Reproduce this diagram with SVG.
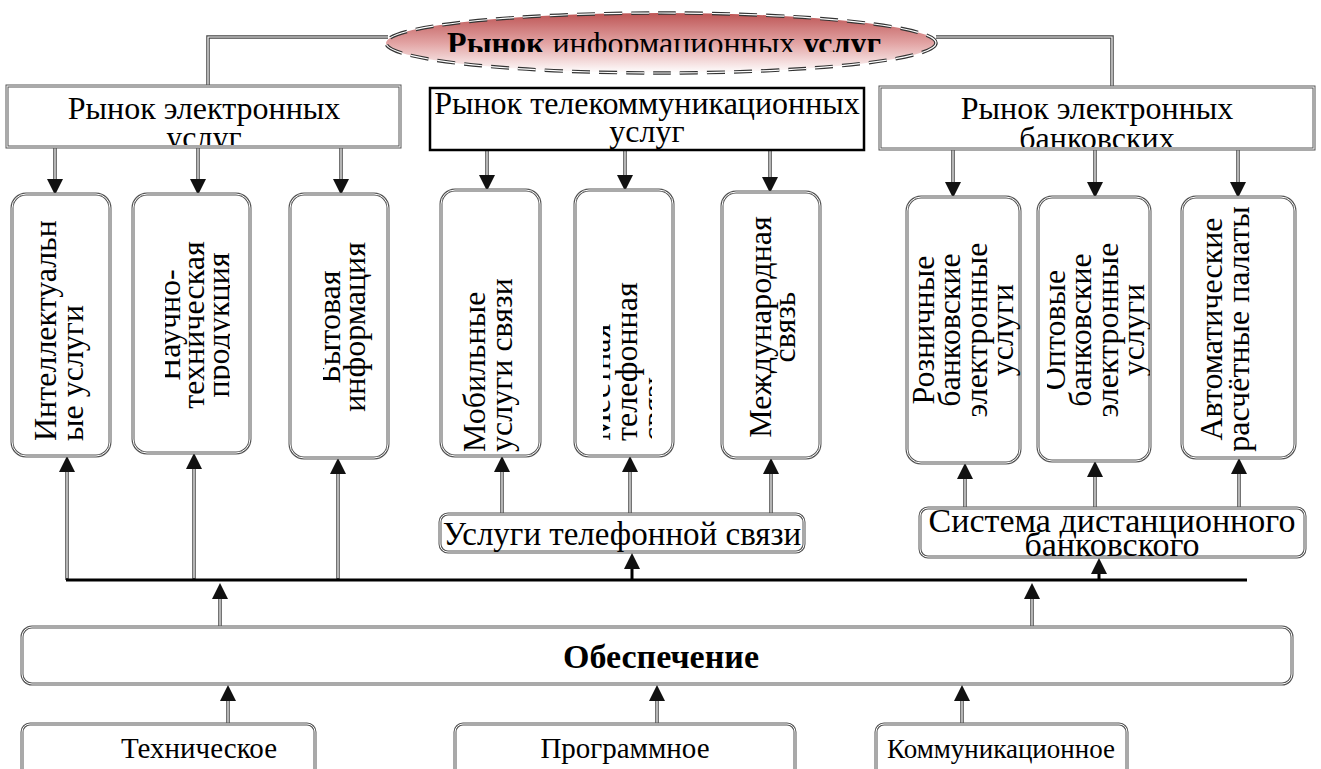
<svg xmlns="http://www.w3.org/2000/svg" width="1321" height="769" viewBox="0 0 1321 769">
<style>
  text { font-family: "Liberation Serif", "Times New Roman", serif; fill: #000; }
  .t { font-size: 32px; }
  .b { font-weight: bold; }
  .dbo { fill: #fff; stroke: #555; stroke-width: 3; }
  .dbi { fill: none; stroke: #fff; stroke-width: 1; }
  .co { fill: none; stroke: #444; stroke-width: 3.5; }
  .ci { fill: none; stroke: #fff; stroke-width: 1.2; }
  .thick { fill: none; stroke: #000; stroke-width: 3; }
</style>
<defs>
  <linearGradient id="red" x1="0" y1="0" x2="0" y2="1">
    <stop offset="0" stop-color="#bd5555"/>
    <stop offset="0.5" stop-color="#e2a3a3"/>
    <stop offset="1" stop-color="#ffffff"/>
  </linearGradient>
  <marker id="ah" viewBox="0 0 16 16" refX="0" refY="8" markerWidth="16" markerHeight="16" markerUnits="userSpaceOnUse" orient="auto">
    <path d="M0,0 L16,8 L0,16 z" fill="#111"/>
  </marker>
  <clipPath id="cTitle"><rect x="380" y="0" width="560" height="52"/></clipPath>
  <clipPath id="cH1"><rect x="9" y="88" width="389" height="57"/></clipPath>
  <clipPath id="cH3"><rect x="882" y="89" width="430" height="58"/></clipPath>
  <clipPath id="cB2"><rect x="165" y="194" width="65" height="259"/></clipPath>
  <clipPath id="cB3"><rect x="323" y="194" width="65" height="264"/></clipPath>
  <clipPath id="cB5"><rect x="603" y="190" width="49" height="266"/></clipPath>
  <clipPath id="cB8"><rect x="1047" y="197" width="103" height="264"/></clipPath>
</defs>

<g id="connectors">
  <path class="co" d="M388,37 H208 V86"/>
  <path class="ci" d="M388,37 H208 V86"/>
  <path class="co" d="M936,37 H1112 V87"/>
  <path class="ci" d="M936,37 H1112 V87"/>
  <g>
    <path class="co" marker-end="url(#ah)" d="M55,148 V179"/>
    <path class="co" marker-end="url(#ah)" d="M198,148 V179"/>
    <path class="co" marker-end="url(#ah)" d="M341,148 V179"/>
    <path class="co" marker-end="url(#ah)" d="M487,151 V175"/>
    <path class="co" marker-end="url(#ah)" d="M625,151 V175"/>
    <path class="co" marker-end="url(#ah)" d="M770,151 V177"/>
    <path class="co" marker-end="url(#ah)" d="M953,150 V182"/>
    <path class="co" marker-end="url(#ah)" d="M1095,150 V182"/>
    <path class="co" marker-end="url(#ah)" d="M1238,150 V182"/>
    <path class="ci" d="M55,148 V179 M198,148 V179 M341,148 V179 M487,151 V175 M625,151 V175 M770,151 V177 M953,150 V182 M1095,150 V182 M1238,150 V182"/>
  </g>
  <g>
    <path class="co" marker-end="url(#ah)" d="M67,580 V472"/>
    <path class="co" marker-end="url(#ah)" d="M194,580 V469"/>
    <path class="co" marker-end="url(#ah)" d="M338,580 V474"/>
    <path class="co" marker-end="url(#ah)" d="M502,514 V472"/>
    <path class="co" marker-end="url(#ah)" d="M630,514 V472"/>
    <path class="co" marker-end="url(#ah)" d="M771,514 V474"/>
    <path class="co" marker-end="url(#ah)" d="M965,508 V479"/>
    <path class="co" marker-end="url(#ah)" d="M1095,508 V477"/>
    <path class="co" marker-end="url(#ah)" d="M1239,508 V474"/>
    <path class="co" marker-end="url(#ah)" d="M220,627 V599"/>
    <path class="co" marker-end="url(#ah)" d="M1032,627 V599"/>
    <path class="co" marker-end="url(#ah)" d="M228,724 V701"/>
    <path class="co" marker-end="url(#ah)" d="M657,724 V701"/>
    <path class="co" marker-end="url(#ah)" d="M962,724 V701"/>
    <path class="ci" d="M67,578 V472 M194,578 V469 M338,578 V474 M502,514 V472 M630,514 V472 M771,514 V474 M965,508 V479 M1095,508 V477 M1239,508 V474 M220,627 V599 M1032,627 V599 M228,724 V701 M657,724 V701 M962,724 V701"/>
  </g>
  <path class="thick" d="M66,580 H1247"/>
  <path class="thick" marker-end="url(#ah)" d="M632,580 V569"/>
  <path class="thick" marker-end="url(#ah)" d="M1099,580 V574"/>
</g>

<g id="title">
  <ellipse cx="661" cy="43" rx="275" ry="30" fill="url(#red)" stroke="#333" stroke-width="3.5" stroke-dasharray="18 9"/>
  <ellipse cx="661" cy="43" rx="275" ry="30" fill="none" stroke="#fff" stroke-width="1.2" stroke-dasharray="18 9"/>
  <text x="664" y="54" text-anchor="middle" font-size="32" clip-path="url(#cTitle)"><tspan class="b">Рынок</tspan> информационных <tspan class="b">услуг</tspan></text>
</g>

<g id="h1">
  <rect class="dbo" x="7" y="86" width="393" height="61"/>
  <rect class="dbi" x="7" y="86" width="393" height="61"/>
  <text class="t" x="204" y="119" text-anchor="middle" clip-path="url(#cH1)"><tspan x="204">Рынок электронных</tspan><tspan x="204" y="148">услуг</tspan></text>
</g>
<g id="h2">
  <rect x="430" y="88" width="434" height="62" fill="#fff" stroke="#000" stroke-width="2.5"/>
  <text class="t" x="647" y="114" text-anchor="middle"><tspan x="647">Рынок телекоммуникационных</tspan><tspan x="647" y="142">услуг</tspan></text>
</g>
<g id="h3">
  <rect class="dbo" x="880" y="87" width="434" height="62"/>
  <rect class="dbi" x="880" y="87" width="434" height="62"/>
  <text class="t" x="1097" y="119" text-anchor="middle" clip-path="url(#cH3)"><tspan x="1097">Рынок электронных</tspan><tspan x="1097" y="149">банковских</tspan></text>
</g>

<g id="b1">
  <rect class="dbo" x="12" y="194" width="98" height="262" rx="14"/>
  <rect class="dbi" x="12" y="194" width="98" height="262" rx="14"/>
  <text class="t" transform="translate(56,441) rotate(-90)"><tspan x="0" y="0">Интеллектуальн</tspan><tspan x="0" y="27">ые услуги</tspan></text>
</g>
<g id="b2">
  <rect class="dbo" x="133" y="194" width="117" height="259" rx="14"/>
  <rect class="dbi" x="133" y="194" width="117" height="259" rx="14"/>
  <g clip-path="url(#cB2)">
    <text class="t" text-anchor="middle" transform="translate(180,325) rotate(-90)"><tspan x="0" y="0">Научно-</tspan><tspan x="0" y="24">техническая</tspan><tspan x="0" y="49">продукция</tspan></text>
  </g>
</g>
<g id="b3">
  <rect class="dbo" x="290" y="194" width="98" height="264" rx="14"/>
  <rect class="dbi" x="290" y="194" width="98" height="264" rx="14"/>
  <g clip-path="url(#cB3)">
    <text class="t" text-anchor="middle" transform="translate(340,327) rotate(-90)"><tspan x="0" y="0">Бытовая</tspan><tspan x="0" y="25">информация</tspan></text>
  </g>
</g>
<g id="b4">
  <rect class="dbo" x="441" y="190" width="99" height="266" rx="14"/>
  <rect class="dbi" x="441" y="190" width="99" height="266" rx="14"/>
  <text class="t" transform="translate(485,452) rotate(-90)"><tspan x="0" y="0">Мобильные</tspan><tspan x="0" y="27">услуги связи</tspan></text>
</g>
<g id="b5">
  <rect class="dbo" x="575" y="190" width="98" height="266" rx="14"/>
  <rect class="dbi" x="575" y="190" width="98" height="266" rx="14"/>
  <g clip-path="url(#cB5)">
    <text class="t" transform="translate(610,441) rotate(-90)"><tspan x="0" y="0">Местная</tspan><tspan x="0" y="27">телефонная</tspan><tspan x="0" y="54">связь</tspan></text>
  </g>
</g>
<g id="b6">
  <rect class="dbo" x="722" y="192" width="98" height="266" rx="14"/>
  <rect class="dbi" x="722" y="192" width="98" height="266" rx="14"/>
  <text class="t" text-anchor="middle" transform="translate(771,327) rotate(-90)"><tspan x="0" y="0">Международная</tspan><tspan x="0" y="24">связь</tspan></text>
</g>
<g id="b7">
  <rect class="dbo" x="907" y="197" width="113" height="266" rx="14"/>
  <rect class="dbi" x="907" y="197" width="113" height="266" rx="14"/>
  <text class="t" text-anchor="middle" transform="translate(934,330) rotate(-90)"><tspan x="0" y="0">Розничные</tspan><tspan x="0" y="26">банковские</tspan><tspan x="0" y="53">электронные</tspan><tspan x="0" y="79">услуги</tspan></text>
</g>
<g id="b8">
  <rect class="dbo" x="1038" y="197" width="112" height="264" rx="14"/>
  <rect class="dbi" x="1038" y="197" width="112" height="264" rx="14"/>
  <g clip-path="url(#cB8)">
    <text class="t" text-anchor="middle" transform="translate(1065,330) rotate(-90)"><tspan x="0" y="0">Оптовые</tspan><tspan x="0" y="26">банковские</tspan><tspan x="0" y="53">электронные</tspan><tspan x="0" y="79">услуги</tspan></text>
  </g>
</g>
<g id="b9">
  <rect class="dbo" x="1182" y="197" width="113" height="261" rx="14"/>
  <rect class="dbi" x="1182" y="197" width="113" height="261" rx="14"/>
  <text class="t" text-anchor="middle" transform="translate(1222,329) rotate(-90)"><tspan x="0" y="0">Автоматические</tspan><tspan x="0" y="27">расчётные палаты</tspan></text>
</g>

<g id="phone">
  <rect class="dbo" x="440" y="514" width="364" height="38" rx="8"/>
  <rect class="dbi" x="440" y="514" width="364" height="38" rx="8"/>
  <text x="622" y="545" text-anchor="middle" font-size="33">Услуги телефонной связи</text>
</g>
<g id="remote">
  <rect class="dbo" x="920" y="508" width="385" height="49" rx="8"/>
  <rect class="dbi" x="920" y="508" width="385" height="49" rx="8"/>
  <text x="1112" y="532" text-anchor="middle" font-size="34"><tspan x="1112">Система дистанционного</tspan><tspan x="1112" y="556">банковского</tspan></text>
</g>
<g id="support">
  <rect class="dbo" x="22" y="627" width="1270" height="57" rx="10"/>
  <rect class="dbi" x="22" y="627" width="1270" height="57" rx="10"/>
  <text class="b" x="661" y="668" text-anchor="middle" font-size="34">Обеспечение</text>
</g>
<g id="tech">
  <rect class="dbo" x="22" y="724" width="293" height="60" rx="8"/>
  <rect class="dbi" x="22" y="724" width="293" height="60" rx="8"/>
  <text x="199" y="758" text-anchor="middle" font-size="29">Техническое</text>
</g>
<g id="prog">
  <rect class="dbo" x="455" y="724" width="340" height="60" rx="8"/>
  <rect class="dbi" x="455" y="724" width="340" height="60" rx="8"/>
  <text x="625" y="758" text-anchor="middle" font-size="29">Программное</text>
</g>
<g id="comm">
  <rect class="dbo" x="876" y="724" width="251" height="60" rx="8"/>
  <rect class="dbi" x="876" y="724" width="251" height="60" rx="8"/>
  <text x="1001" y="758" text-anchor="middle" font-size="27">Коммуникационное</text>
</g>
</svg>
